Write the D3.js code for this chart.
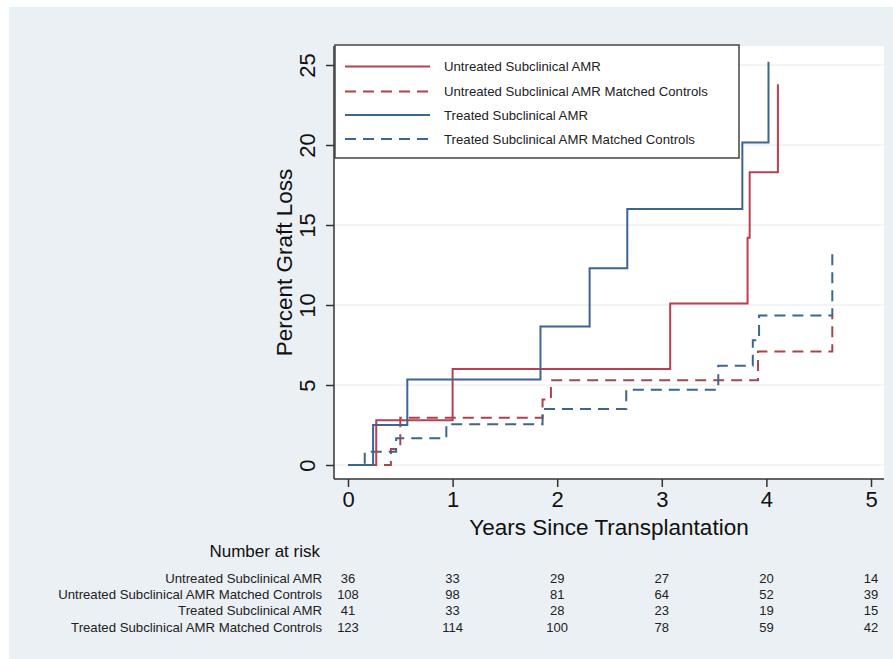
<!DOCTYPE html>
<html>
<head>
<meta charset="utf-8">
<script src="https://cdn.jsdelivr.net/npm/d3@7"></script>
<style>
  html, body { margin: 0; padding: 0; background: #ffffff; }
  svg { display: block; font-family: "Liberation Sans", Arial, Helvetica, sans-serif; }
</style>
</head>
<body>
<svg id="chart" width="893" height="659"></svg>
<script>
// ---------- data ----------
const seriesNames = [
  "Untreated Subclinical AMR",
  "Untreated Subclinical AMR Matched Controls",
  "Treated Subclinical AMR",
  "Treated Subclinical AMR Matched Controls"
];
const untreatedTimes = [0, 0.27, 1.00, 3.08, 3.82, 3.84, 4.11];
const untreatedLoss  = [0, 2.8, 6.0, 10.1, 14.2, 18.3, 23.8];
const untreatedCtrlTimes = [0, 0.41, 0.50, 1.86, 1.94, 3.92, 4.63];
const untreatedCtrlLoss  = [0, 1.0, 2.95, 4.1, 5.3, 7.1, 9.35];
const treatedTimes = [0, 0.24, 0.567, 1.84, 2.31, 2.67, 3.77, 4.02];
const treatedLoss  = [0, 2.5, 5.35, 8.65, 12.3, 16.0, 20.15, 25.2];
const treatedCtrlTimes = [0, 0.16, 0.46, 0.94, 1.86, 2.66, 3.54, 3.87, 3.93, 4.63];
const treatedCtrlLoss  = [0, 0.83, 1.67, 2.55, 3.5, 4.7, 6.2, 7.8, 9.35, 13.3];

const xTicks = [0, 1, 2, 3, 4, 5];
const yTicks = [0, 5, 10, 15, 20, 25];

const riskUntreated     = [36, 33, 29, 27, 20, 14];
const riskUntreatedCtrl = [108, 98, 81, 64, 52, 39];
const riskTreated       = [41, 33, 28, 23, 19, 15];
const riskTreatedCtrl   = [123, 114, 100, 78, 59, 42];

// ---------- styles ----------
const RED = "#b8404f", RED_D = "#a9444f", BLUE = "#3b6593", BLUE_D = "#3d6590";
const series = [
  { name: seriesNames[0], t: untreatedTimes, v: untreatedLoss, color: RED, dash: null, risk: riskUntreated },
  { name: seriesNames[1], t: untreatedCtrlTimes, v: untreatedCtrlLoss, color: RED_D, dash: "11,7", risk: riskUntreatedCtrl },
  { name: seriesNames[2], t: treatedTimes, v: treatedLoss, color: BLUE, dash: null, risk: riskTreated },
  { name: seriesNames[3], t: treatedCtrlTimes, v: treatedCtrlLoss, color: BLUE_D, dash: "11,7", risk: riskTreatedCtrl }
];

const svg = d3.select("#chart");
const W = 893, H = 659;

// outer background
svg.append("rect").attr("x", 9).attr("y", 7).attr("width", W - 9).attr("height", H - 7).attr("fill", "#eaf0f3");

const plot = { left: 334, right: 884, top: 46, bottom: 479 };
svg.append("rect").attr("x", plot.left).attr("y", plot.top)
  .attr("width", plot.right - plot.left).attr("height", plot.bottom - plot.top).attr("fill", "#ffffff");

const x = d3.scaleLinear().domain([0, 5]).range([348, 871]);
const y = d3.scaleLinear().domain([0, 25]).range([465, 65]);

// gridlines
svg.append("g").selectAll("line").data(yTicks).join("line")
  .attr("x1", plot.left).attr("x2", plot.right)
  .attr("y1", d => y(d)).attr("y2", d => y(d))
  .attr("stroke", "#e6e8ea").attr("stroke-width", 1);

// curves
const line = d3.line().x(d => x(d[0])).y(d => y(d[1])).curve(d3.curveStepAfter);
const drawOrder = [1, 3, 0, 2];
drawOrder.forEach(i => {
  const s = series[i];
  const pts = s.t.map((t, k) => [t, s.v[k]]);
  svg.append("path").datum(pts).attr("d", line)
    .attr("fill", "none").attr("stroke", s.color).attr("stroke-width", 2)
    .attr("stroke-dasharray", s.dash).attr("stroke-linejoin", "miter");
});

// axes
const yAxis = d3.axisLeft(y).tickValues(yTicks).tickFormat(d3.format("d")).tickSize(8).tickPadding(0).tickSizeOuter(0);
const gy = svg.append("g").attr("transform", `translate(${plot.left},0)`).call(yAxis);
gy.select(".domain").attr("d", `M0,${plot.top}V${plot.bottom}`).attr("stroke", "#333").attr("stroke-width", 1.5);
gy.selectAll(".tick line").attr("stroke", "#333").attr("stroke-width", 1.5);
gy.selectAll(".tick text")
  .attr("transform", "rotate(-90)")
  .attr("x", 0).attr("y", -27)
  .attr("text-anchor", "middle").attr("dy", "0.35em")
  .attr("font-size", 22).attr("fill", "#111")
  .attr("font-family", "'Liberation Sans', Arial, sans-serif");

const xAxis = d3.axisBottom(x).tickValues(xTicks).tickFormat(d3.format("d")).tickSize(8).tickPadding(4).tickSizeOuter(0);
const gx = svg.append("g").attr("transform", `translate(0,${plot.bottom})`).call(xAxis);
gx.select(".domain").attr("d", `M${plot.left},0H${plot.right}`).attr("stroke", "#333").attr("stroke-width", 1.5);
gx.selectAll(".tick line").attr("stroke", "#333").attr("stroke-width", 1.5);
gx.selectAll(".tick text").attr("font-size", 22).attr("fill", "#111")
  .attr("font-family", "'Liberation Sans', Arial, sans-serif");

// axis titles
svg.append("text").attr("transform", `translate(284,${(plot.top + plot.bottom) / 2}) rotate(-90)`)
  .attr("text-anchor", "middle").attr("dy", "0.35em").attr("font-size", 22.5).attr("fill", "#111")
  .text("Percent Graft Loss");
svg.append("text").attr("x", (plot.left + plot.right) / 2).attr("y", 535)
  .attr("text-anchor", "middle").attr("font-size", 22.5).attr("fill", "#111")
  .text("Years Since Transplantation");

// legend
const lg = svg.append("g");
lg.append("rect").attr("x", 335).attr("y", 45).attr("width", 404).attr("height", 113)
  .attr("fill", "#ffffff").attr("stroke", "#444").attr("stroke-width", 1.5);
const legendY = [66.5, 91.5, 115, 139];
series.forEach((s, i) => {
  lg.append("line").attr("x1", 345).attr("x2", 430).attr("y1", legendY[i]).attr("y2", legendY[i])
    .attr("stroke", s.color).attr("stroke-width", 2).attr("stroke-dasharray", s.dash);
  lg.append("text").attr("x", 444).attr("y", legendY[i]).attr("dy", "0.35em")
    .attr("font-size", 13.2).attr("fill", "#222").text(s.name);
});

// number at risk
svg.append("text").attr("x", 320).attr("y", 557).attr("text-anchor", "end")
  .attr("font-size", 17).attr("fill", "#111").text("Number at risk");
const rowY = [578, 594, 610, 627];
series.forEach((s, i) => {
  svg.append("text").attr("x", 322).attr("y", rowY[i]).attr("dy", "0.35em")
    .attr("text-anchor", "end").attr("font-size", 13.2).attr("fill", "#222").text(s.name);
  svg.append("g").selectAll("text").data(s.risk).join("text")
    .attr("x", (d, k) => x(xTicks[k])).attr("y", rowY[i]).attr("dy", "0.35em")
    .attr("text-anchor", "middle").attr("font-size", 13).attr("fill", "#222").text(d => d);
});
</script>
</body>
</html>
